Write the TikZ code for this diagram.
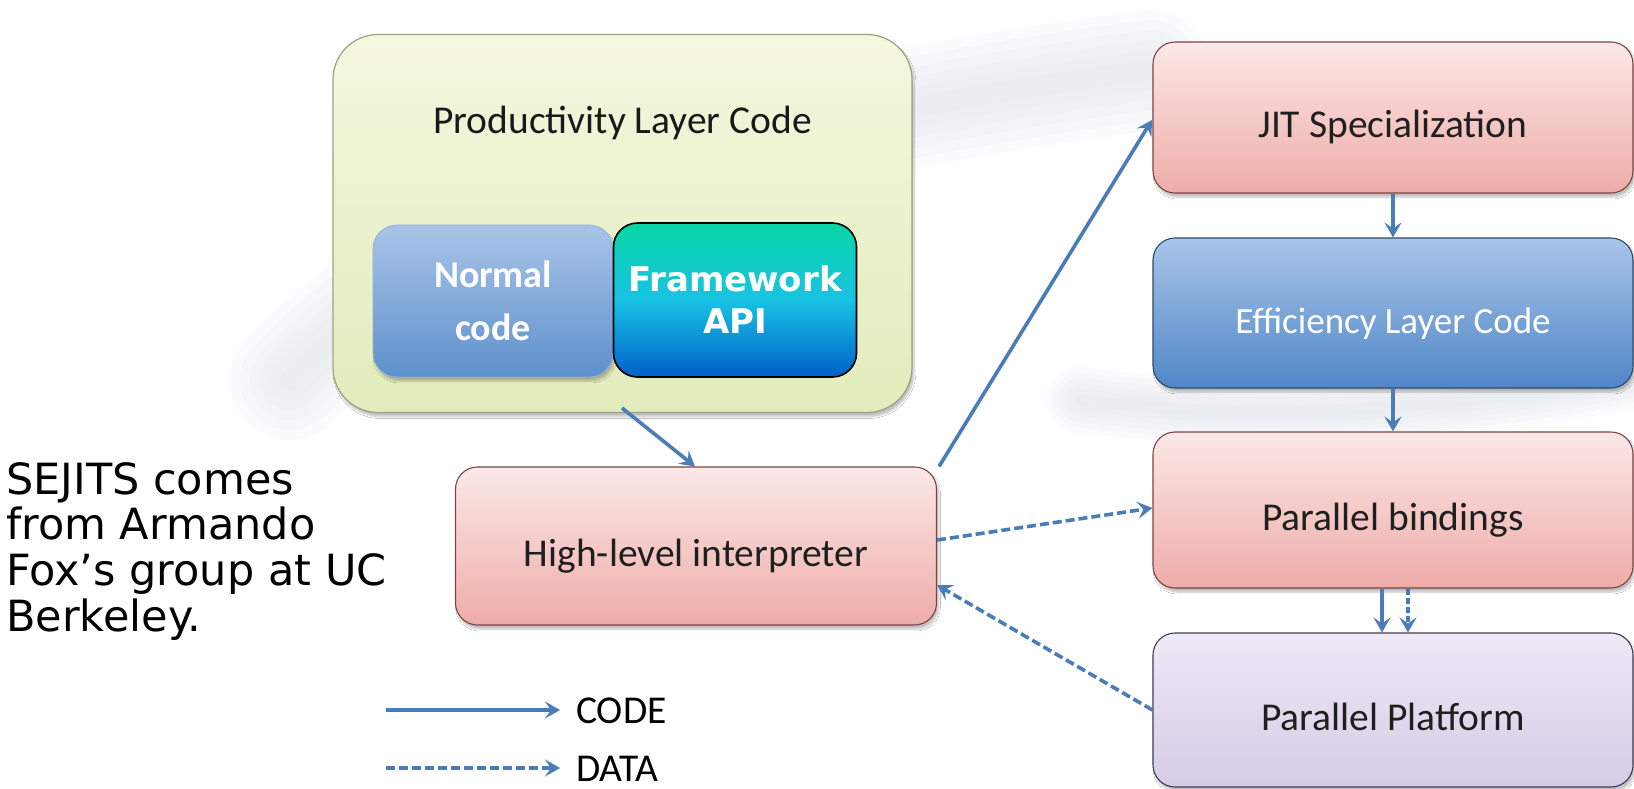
\documentclass[tikz,border=0pt]{standalone}
\usepackage{fontspec}
\setmainfont{Carlito}
\newfontfamily\tahoma{DejaVu Sans}
\usetikzlibrary{arrows.meta,shadows.blur}

\definecolor{arrowblue}{HTML}{4A7DB8}
\definecolor{greentop}{HTML}{F4F7DF}
\definecolor{greenbot}{HTML}{E3ECBC}
\definecolor{greenline}{HTML}{9BA27C}
\definecolor{bluetop}{HTML}{A9C4E8}
\definecolor{bluebot}{HTML}{5087C7}
\definecolor{blueline}{HTML}{2B4A6E}
\definecolor{pinktop}{HTML}{FBE8E7}
\definecolor{pinkbot}{HTML}{EEACA8}
\definecolor{pinkline}{HTML}{7E4242}
\definecolor{lavtop}{HTML}{EFE9F6}
\definecolor{lavbot}{HTML}{D7CBE6}
\definecolor{lavline}{HTML}{403A52}
\definecolor{fwtop}{HTML}{08D6A6}
\definecolor{fwmid}{HTML}{19C2E4}
\definecolor{fwbot}{HTML}{0060CA}
\definecolor{swoosh}{HTML}{DADFE8}

\tikzset{
  labelfont/.style={font=\fontsize{39.5}{47}\selectfont},
  softshadow/.style={blur shadow={shadow xshift=2pt,shadow yshift=-4pt,shadow blur steps=6,shadow opacity=25}},
  layerbox/.style={rectangle, rounded corners=22pt, line width=1.1pt, labelfont,
    minimum width=480pt, text height=40pt, text depth=0pt, softshadow},
  pinkbox/.style={layerbox, draw=pinkline, top color=pinktop, bottom color=pinkbot, text=black!88},
  bluebox/.style={layerbox, draw=blueline, top color=bluetop, bottom color=bluebot, text=white},
  lavbox/.style={layerbox, draw=lavline, top color=lavtop, bottom color=lavbot, text=black!88},
  codearrow/.style={draw=arrowblue, line width=3.6pt,
    -{Stealth[length=15pt,width=17pt,inset=6pt]}},
  dataarrow/.style={codearrow, dash pattern=on 9pt off 4pt},
  haze/.style={draw=swoosh, opacity=0.11, line cap=round},
}

\begin{document}
\begin{tikzpicture}[x=1pt,y=-1pt]
\useasboundingbox (0,0) rectangle (1634,788);
\fill[white] (0,0) rectangle (1634,788);

% faint background swooshes, built from stacked soft strokes
\foreach \w in {20,40,60,80,100,120}{
  \draw[haze, line width=\w pt]
    (290,380) .. controls (480,180) and (850,110) .. (1150,70);
  \draw[haze, line width=0.55*\w pt]
    (1080,400) .. controls (1280,425) and (1480,405) .. (1634,375);
}

% productivity layer container
\node[rectangle, rounded corners=45pt, draw=greenline, line width=1.2pt,
      top color=greentop, bottom color=greenbot, softshadow,
      minimum width=579pt, minimum height=378pt] (prod) at (622.5,223.5) {};
\node[labelfont, anchor=base, text=black!90] (prodlabel) at (622.5,133) {Productivity Layer Code};

\node[rectangle, rounded corners=24pt, draw=bluetop!70!bluebot, line width=0.8pt,
      top color=bluetop, bottom color=bluebot!92!white, text=white, softshadow,
      minimum width=240pt, minimum height=152pt, align=center,
      font=\bfseries\fontsize{38}{53}\selectfont] (normal) at (493,301) {Normal\\code};
\node[rectangle, rounded corners=24pt, draw=black, line width=1.6pt,
      top color=fwtop, bottom color=fwbot, middle color=fwmid, text=white,
      minimum width=243pt, minimum height=154pt, align=center,
      font=\tahoma\bfseries\fontsize{34}{42}\selectfont] (framework) at (735,300) {Framework\\API};

% interpreter and the layer stack
\node[pinkbox, minimum width=481pt, minimum height=158pt] (interp) at (696,546) {High-level interpreter};
\node[pinkbox, minimum height=151pt] (jit) at (1393,117.5) {JIT Specialization};
\node[bluebox, minimum height=150pt, font=\fontsize{37}{44}\selectfont] (eff) at (1393,313) {Efficiency Layer Code};
\node[pinkbox, minimum height=156pt] (bind) at (1393,510) {Parallel bindings};
\node[lavbox, minimum height=154pt] (plat) at (1393,710) {Parallel Platform};

% code flow
\draw[codearrow] (622,408) -- (interp.north -| 695,0);
\draw[codearrow] (interp.north east) ++(2,0) -- (1152,120);
\draw[codearrow] (jit.south) -- (eff.north);
\draw[codearrow] (eff.south) -- (bind.north);
\draw[codearrow] (bind.south -| 1382,0) -- (plat.north -| 1382,0);

% data flow
\draw[dataarrow] (interp.east |- 0,540) -- (bind.west |- 0,508);
\draw[dataarrow] (plat.west |- 0,710) -- (interp.east |- 0,585);
\draw[dataarrow, dash pattern=on 6pt off 3pt] (bind.south -| 1408,0) -- (plat.north -| 1408,0);

% side note
\node[anchor=north west, inner sep=0pt, align=left,
      font=\tahoma\fontsize{43}{45.7}\selectfont] (note) at (6,462)
  {SEJITS comes\\from Armando\\Fox’s group at UC\\Berkeley.};

% legend
\coordinate (codeA) at (386,710);
\coordinate (codeB) at (560,710);
\coordinate (dataA) at (386,768);
\coordinate (dataB) at (560,768);
\draw[codearrow] (codeA) -- (codeB);
\draw[dataarrow] (dataA) -- (dataB);
\node[labelfont, anchor=base west, inner sep=0pt] (codelabel) at (576,723) {CODE};
\node[labelfont, anchor=base west, inner sep=0pt] (datalabel) at (576,781) {DATA};
\end{tikzpicture}
\end{document}
